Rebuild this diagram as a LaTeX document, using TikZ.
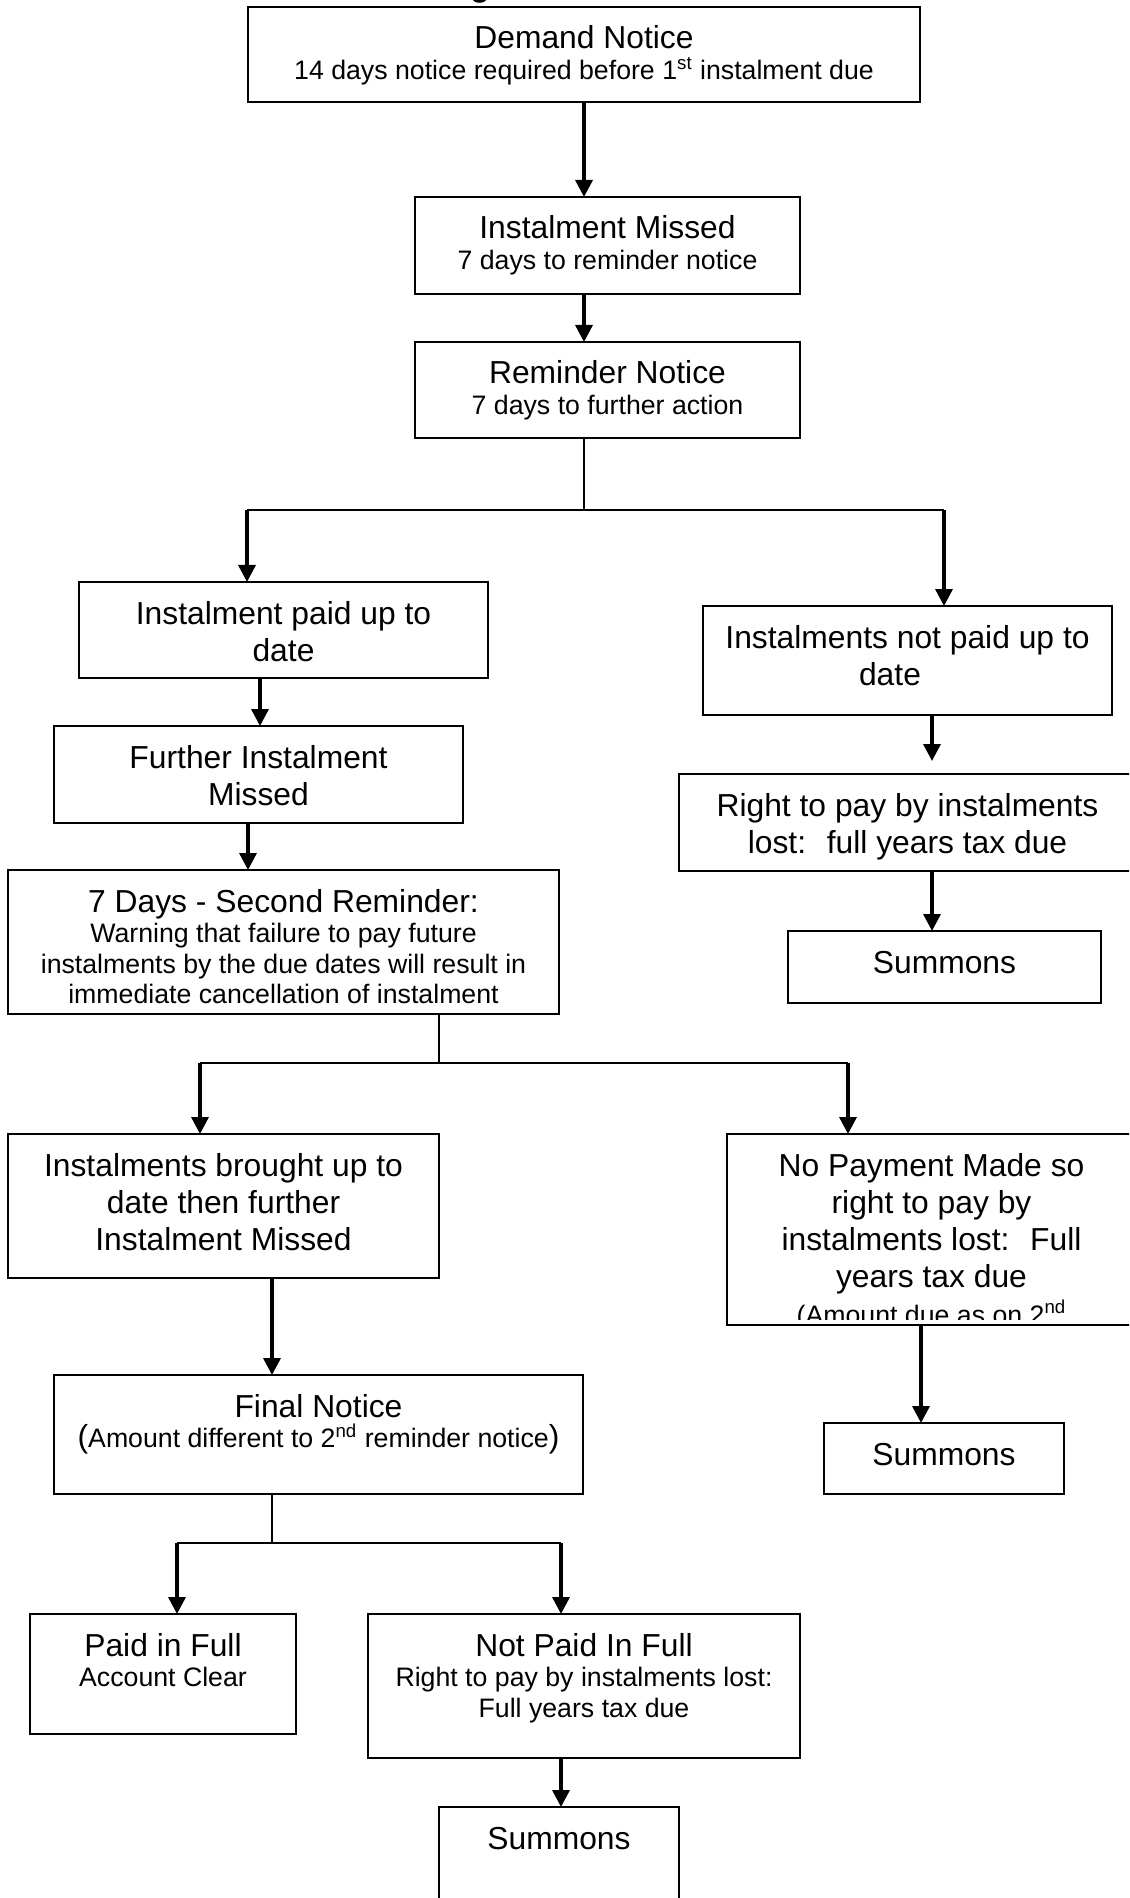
\documentclass[tikz,border=0pt]{standalone}
\usepackage{fontspec}
\setmainfont{Liberation Sans}
\usetikzlibrary{arrows.meta}
\newlength\pxu \setlength\pxu{0.5pt}
\newcommand\bigf{\fontsize{15.9pt}{18.5pt}\selectfont}
\newcommand\smf{\fontsize{13.35pt}{15.3pt}\selectfont}
\newcommand\bxc[3]{\parbox[c][#2\pxu][t]{#1\pxu}{\bigf\centering\parskip=0pt\rule{0pt}{21pt}#3\par}}
\begin{document}
\begin{tikzpicture}[x=0.5pt,y=-0.5pt,
  box/.style={draw, line width=0.7pt, inner sep=0pt, outer sep=0pt, anchor=north west},
  conn/.style={line width=0.7pt},
  arr/.style={line width=1.7pt, -{Triangle[length=8.5pt,width=8.5pt]}}]
\useasboundingbox (0,0) rectangle (1129,1898);
\clip (0,0) rectangle (1129,1898);
\fill[white] (0,0) rectangle (1129,1898);

% title fragment (cut off at the top)
\node[anchor=base, inner sep=0pt, font=\bigf\bfseries] (ttl) at (480,-3) {g};

% boxes
\node[box] (dn) at (248,7) {\bxc{672}{95}{Demand Notice\par\smf 14 days notice required before 1\textsuperscript{st} instalment due}};
\node[box] (im) at (415,197) {\bxc{385}{97}{Instalment Missed\par\smf 7 days to reminder notice}};
\node[box] (rn) at (415,342) {\bxc{385}{96}{Reminder Notice\par\smf 7 days to further action}};
\node[box] (paid) at (79,582) {\bxc{409}{96}{Instalment paid up to\par date}};
\node[box] (further) at (54,726) {\bxc{409}{97}{Further Instalment\par Missed}};
\node[box] (sevend) at (8,870) {\bxc{551}{144}{7 Days - Second Reminder:\par\smf Warning that failure to pay future\par instalments by the due dates will result in\par immediate cancellation of instalment}};
\node[box] (notpaid) at (703,606) {\bxc{409}{109}{Instalments not paid up to\par date\hspace*{17.5pt}}};
\node[box] (right) at (679,774) {\bxc{457}{97}{Right to pay by instalments\par lost:~ full years tax due}};
\node[box] (sum1) at (788,931) {\bxc{313}{72}{Summons}};
\node[box] (brought) at (8,1134) {\bxc{431}{144}{Instalments brought up to\par date then further\par Instalment Missed}};
\begin{scope}
\clip (700,1120) rectangle (1136,1319);
\node[box, draw=none] (nopay) at (727,1134) {\bxc{409}{191}{No Payment Made so\par right to pay by\par instalments lost:~ Full\par years tax due\par\vspace{3.25pt}\smf (Amount due as on 2\textsuperscript{nd}}};
\end{scope}
\draw[line width=0.7pt] (nopay.north west) rectangle (nopay.south east);
\node[box] (final) at (54,1375) {\bxc{529}{119}{Final Notice\par\smf {\bigf(}Amount different to 2\textsuperscript{nd} reminder notice{\bigf)}}};
\node[box] (sum2) at (824,1423) {\bxc{240}{71}{Summons}};
\node[box] (pif) at (30,1614) {\bxc{266}{120}{Paid in Full\par\smf Account Clear}};
\node[box] (npif) at (368,1614) {\bxc{432}{144}{Not Paid In Full\par\smf Right to pay by instalments lost:\par Full years tax due}};
\node[box] (sum3) at (439,1807) {\bxc{240}{113}{Summons}};

% guide coordinates
\coordinate (j1) at (584,510);
\coordinate (j1l) at (247,510);
\coordinate (j1r) at (944,510);
\coordinate (xa) at (260,0);
\coordinate (xb) at (248,0);
\coordinate (xc) at (932,0);
\coordinate (tipc) at (932,761);
\coordinate (j2) at (439,1063);
\coordinate (j2l) at (200,1063);
\coordinate (j2r) at (848,1063);
\coordinate (xe) at (272,0);
\coordinate (xf) at (921,0);
\coordinate (j3) at (272,1543);
\coordinate (j3l) at (177,1543);
\coordinate (j3r) at (561,1543);

% connectors
\draw[arr] (dn.south) -- (dn.south |- im.north);
\draw[arr] (im.south -| dn.south) -- (rn.north -| dn.south);
\draw[conn] (rn.south -| j1) -- (j1);
\draw[conn] (j1l) -- (j1r);
\draw[arr] (j1l) -- (paid.north -| j1l);
\draw[arr] (j1r) -- (notpaid.north -| j1r);
\draw[arr] (paid.south -| xa) -- (further.north -| xa);
\draw[arr] (further.south -| xb) -- (sevend.north -| xb);
\draw[arr] (notpaid.south -| tipc) -- (tipc);
\draw[arr] (right.south -| xc) -- (sum1.north -| xc);
\draw[conn] (sevend.south -| j2) -- (j2);
\draw[conn] (j2l) -- (j2r);
\draw[arr] (j2l) -- (brought.north -| j2l);
\draw[arr] (j2r) -- (nopay.north -| j2r);
\draw[arr] (brought.south -| xe) -- (final.north -| xe);
\draw[arr] (nopay.south -| xf) -- (sum2.north -| xf);
\draw[conn] (final.south -| j3) -- (j3);
\draw[conn] (j3l) -- (j3r);
\draw[arr] (j3l) -- (pif.north -| j3l);
\draw[arr] (j3r) -- (npif.north -| j3r);
\draw[arr] (npif.south -| j3r) -- (sum3.north -| j3r);
\end{tikzpicture}
\end{document}
